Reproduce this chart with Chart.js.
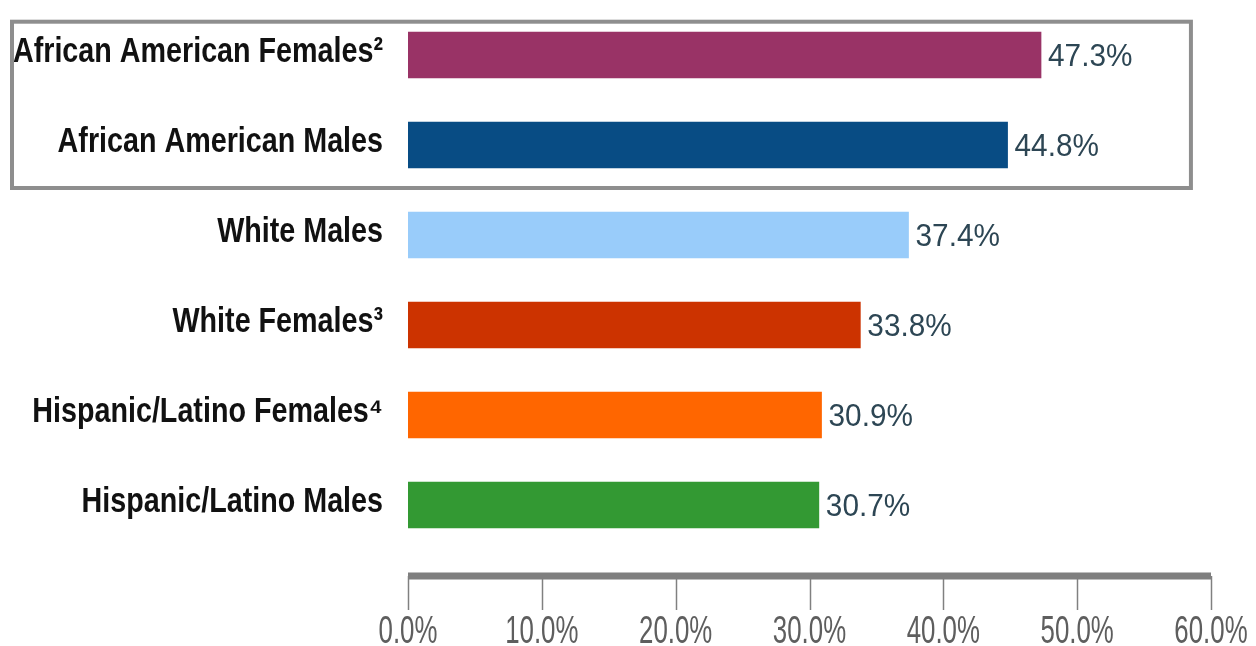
<!DOCTYPE html>
<html>
<head>
<meta charset="utf-8">
<script src="https://cdn.jsdelivr.net/npm/chart.js@4"></script>
<style>
  html, body { margin: 0; padding: 0; background: #fff; }
  #wrap { width: 1256px; height: 646px; }
</style>
</head>
<body>
<div id="wrap"><canvas id="chart"></canvas></div>
<script>
var categories = ['African American Females²', 'African American Males', 'White Males', 'White Females³', 'Hispanic/Latino Females⁴', 'Hispanic/Latino Males'];
var values = [47.3, 44.8, 37.4, 33.8, 30.9, 30.7];
var barColors = ['#993366', '#084c84', '#99ccfa', '#cc3300', '#ff6600', '#339933'];
var axisMin = 0;
var axisMax = 60;
var axisStep = 10;

var sans = "'Liberation Sans', Arial, sans-serif";

// text squeezed sideways, the reference uses a tall narrow face
function squashText(ctx, text, x, y, sx, align) {
  ctx.save();
  ctx.translate(x, y);
  ctx.scale(sx, 1);
  ctx.textAlign = align;
  ctx.fillText(text, 0, 0);
  ctx.restore();
}

var decor = {
  id: 'decor',
  afterDatasetsDraw: function (chart) {
    var ctx = chart.ctx;
    var meta = chart.getDatasetMeta(0);
    var x = chart.scales.x;
    var y = chart.scales.y;
    ctx.save();

    // value labels at the bar ends
    ctx.font = '31px ' + sans;
    ctx.fillStyle = '#2d4654';
    ctx.textBaseline = 'middle';
    meta.data.forEach(function (bar, i) {
      squashText(ctx, values[i].toFixed(1) + '%', bar.x + 7, bar.y + 2, 0.96, 'left');
    });

    // category labels
    ctx.font = 'bold 35px ' + sans;
    ctx.fillStyle = '#111';
    categories.forEach(function (c, i) {
      squashText(ctx, c, y.right - 25, y.getPixelForValue(i) - 3, 0.82, 'right');
    });

    // x tick labels
    ctx.font = '38px ' + sans;
    ctx.fillStyle = '#5e5e5e';
    ctx.textBaseline = 'alphabetic';
    x.ticks.forEach(function (t) {
      squashText(ctx, t.value.toFixed(1) + '%', x.getPixelForValue(t.value), 643, 0.68, 'center');
    });
    ctx.restore();
  },
  afterDraw: function (chart) {
    var ctx = chart.ctx;
    var x = chart.scales.x;
    var y = chart.scales.y;
    var area = chart.chartArea;
    ctx.save();

    var lineY = area.bottom + 26;
    ctx.strokeStyle = '#808080';
    ctx.lineWidth = 1.5;
    x.ticks.forEach(function (t) {
      var px = Math.round(x.getPixelForValue(t.value)) + 0.5;
      ctx.beginPath();
      ctx.moveTo(px, lineY);
      ctx.lineTo(px, area.bottom + 60);
      ctx.stroke();
    });
    ctx.lineWidth = 7;
    ctx.strokeStyle = '#7f7f7f';
    ctx.beginPath();
    ctx.moveTo(x.getPixelForValue(axisMin), lineY);
    ctx.lineTo(x.getPixelForValue(axisMax), lineY);
    ctx.stroke();

    // box round the first two rows
    var y0 = y.getPixelForValue(0);
    var gap = y.getPixelForValue(1) - y0;
    var top = y0 - gap * 0.37;
    var bottom = (y.getPixelForValue(1) + y.getPixelForValue(2)) / 2 - 2;
    ctx.lineWidth = 4;
    ctx.strokeStyle = '#8e8e8e';
    ctx.strokeRect(12, top, x.getPixelForValue(58.5) - 12, bottom - top);
    ctx.restore();
  }
};

new Chart(document.getElementById('chart'), {
  type: 'bar',
  data: {
    labels: categories,
    datasets: [{
      data: values,
      backgroundColor: barColors,
      borderWidth: 0,
      barThickness: 46
    }]
  },
  options: {
    indexAxis: 'y',
    responsive: true,
    maintainAspectRatio: false,
    animation: false,
    layout: { padding: { top: 10, left: 8, right: 45, bottom: 0 } },
    plugins: {
      legend: { display: false },
      tooltip: { enabled: false }
    },
    scales: {
      x: {
        min: axisMin,
        max: axisMax,
        grid: { display: false, drawTicks: false },
        border: { display: false },
        ticks: { stepSize: axisStep, display: false },
        afterFit: function (s) { s.height = 96; s.paddingRight = 0; s.paddingLeft = 0; }
      },
      y: {
        grid: { display: false, drawTicks: false },
        border: { display: false },
        ticks: { display: false },
        afterFit: function (s) { s.width = 400; s.paddingTop = 0; s.paddingBottom = 0; }
      }
    }
  },
  plugins: [decor]
});
</script>
</body>
</html>
